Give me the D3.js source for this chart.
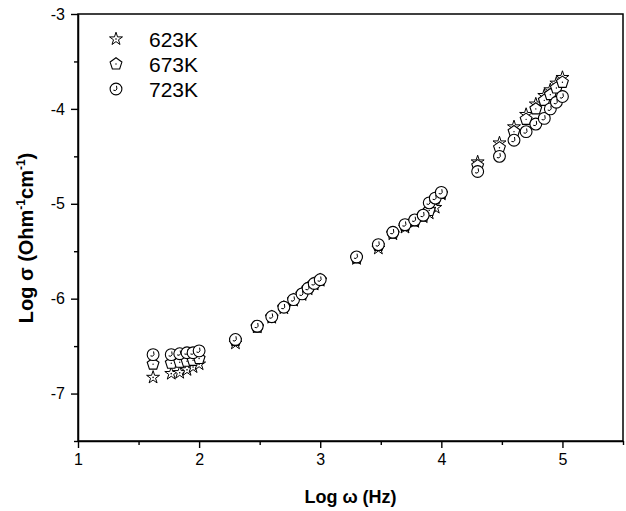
<!DOCTYPE html>
<html>
<head>
<meta charset="utf-8">
<script src="https://cdn.jsdelivr.net/npm/d3@7"></script>
<style>
  html, body { margin: 0; padding: 0; background: #fff; }
  svg { display: block; font-family: Arial, "Liberation Sans", Helvetica, sans-serif; }
</style>
</head>
<body>
<svg id="chart" width="626" height="511"></svg>
<script>
// Log of angular frequency (Hz)
const logW = [1.62, 1.77, 1.84, 1.90, 1.95, 2.00,
              2.30, 2.48, 2.60, 2.70, 2.78, 2.85, 2.90, 2.95, 3.00,
              3.30, 3.48, 3.60, 3.70, 3.78, 3.85, 3.90, 3.95, 4.00,
              4.30, 4.48, 4.60, 4.70, 4.78, 4.85, 4.90, 4.95, 5.00];

// Log conductivity at each temperature
const sigma623 = [-6.83, -6.79, -6.78, -6.75, -6.72, -6.69,
                  -6.47, -6.30, -6.20, -6.10, -6.02, -5.96, -5.90, -5.85, -5.81,
                  -5.58, -5.47, -5.32, -5.25, -5.19, -5.14, -5.10, -5.04, -4.90,
                  -4.56, -4.36, -4.19, -4.06, -3.95, -3.86, -3.80, -3.73, -3.67];
const sigma673 = [-6.69, -6.68, -6.67, -6.66, -6.65, -6.63,
                  -6.44, -6.30, -6.19, -6.09, -6.01, -5.95, -5.89, -5.84, -5.80,
                  -5.57, -5.44, -5.31, -5.23, -5.18, -5.13, -5.07, -4.95, -4.89,
                  -4.60, -4.41, -4.24, -4.11, -4.00, -3.91, -3.85, -3.78, -3.72];
const sigma723 = [-6.59, -6.59, -6.58, -6.57, -6.57, -6.55,
                  -6.43, -6.29, -6.19, -6.09, -6.01, -5.95, -5.89, -5.84, -5.80,
                  -5.56, -5.43, -5.30, -5.22, -5.17, -5.12, -4.99, -4.94, -4.88,
                  -4.66, -4.50, -4.33, -4.24, -4.16, -4.10, -4.00, -3.93, -3.87];

const seriesNames = ["623K", "673K", "723K"];
const xTicks = [1, 2, 3, 4, 5];
const yTicks = [-7, -6, -5, -4, -3];

const svg = d3.select("#chart");
const plotL = 78, plotR = 623, plotT = 14, plotB = 441;

const x = d3.scaleLinear().domain([1, 5.5]).range([plotL, plotR]);
const y = d3.scaleLinear().domain([-7.5, -3]).range([plotB, plotT]);

// Marker shapes
const starPath = d3.symbol().type(d3.symbolStar).size(52)();
const pentPath = (() => {
  const r = 6.2, pts = [];
  for (let i = 0; i < 5; i++) {
    const a = -Math.PI / 2 + i * 2 * Math.PI / 5;
    pts.push([r * Math.cos(a), r * Math.sin(a)]);
  }
  return "M" + pts.map(p => p.join(",")).join("L") + "Z";
})();

function drawStar(g) {
  g.append("path").attr("d", starPath).attr("fill", "#fff").attr("stroke", "#000").attr("stroke-width", 1);
  g.append("circle").attr("r", 0.8).attr("fill", "#000");
}
function drawPent(g) {
  g.append("path").attr("d", pentPath).attr("fill", "#fff").attr("stroke", "#000").attr("stroke-width", 1.1);
  g.append("circle").attr("r", 0.7).attr("fill", "#000");
}
function drawClock(g) {
  g.append("circle").attr("r", 5.9).attr("fill", "#fff").attr("stroke", "#000").attr("stroke-width", 1.1);
  g.append("path").attr("d", "M0.5,-3.2 Q1.8,0.8 -0.5,1.6 L-2.6,1.2")
    .attr("fill", "none").attr("stroke", "#000").attr("stroke-width", 1);
}

// Frame
svg.append("rect").attr("x", plotL).attr("y", plotT)
  .attr("width", plotR - plotL).attr("height", plotB - plotT)
  .attr("fill", "none").attr("stroke", "#000").attr("stroke-width", 1.5);

// Axes
const xAxis = d3.axisBottom(x).tickValues(xTicks).tickFormat(d3.format("d")).tickSize(7).tickSizeOuter(0).tickPadding(6);
const gx = svg.append("g").attr("transform", `translate(0,${plotB})`).call(xAxis);
const yAxis = d3.axisLeft(y).tickValues(yTicks).tickFormat(d => String(d).replace("\u2212", "-")).tickSize(7).tickSizeOuter(0).tickPadding(6);
const gy = svg.append("g").attr("transform", `translate(${plotL},0)`).call(yAxis);
[gx, gy].forEach(g => {
  g.select(".domain").attr("stroke", "#000").attr("stroke-width", 1.5);
  g.selectAll(".tick line").attr("stroke", "#000").attr("stroke-width", 1.4);
  g.selectAll(".tick text").attr("fill", "#000").style("font-size", "16px").style("font-family", "Arial, 'Liberation Sans', sans-serif");
});
// Minor ticks
svg.append("g").attr("transform", `translate(0,${plotB})`)
  .call(d3.axisBottom(x).tickValues([1.5, 2.5, 3.5, 4.5, 5.5]).tickFormat("").tickSize(4).tickSizeOuter(0))
  .call(g => { g.select(".domain").remove(); g.selectAll("line").attr("stroke", "#000").attr("stroke-width", 1.4); });
svg.append("g").attr("transform", `translate(${plotL},0)`)
  .call(d3.axisLeft(y).tickValues([-7.5, -6.5, -5.5, -4.5, -3.5]).tickFormat("").tickSize(4).tickSizeOuter(0))
  .call(g => { g.select(".domain").remove(); g.selectAll("line").attr("stroke", "#000").attr("stroke-width", 1.4); });

// Axis titles
svg.append("text").attr("x", (plotL + plotR) / 2).attr("y", 503)
  .attr("text-anchor", "middle").style("font-size", "18px").style("font-weight", "bold")
  .text("Log \u03c9 (Hz)");

const yt = svg.append("text").attr("transform", "translate(33,238) rotate(-90)")
  .attr("text-anchor", "middle").style("font-size", "20px").style("font-weight", "bold");
yt.append("tspan").text("Log \u03c3 (Ohm");
yt.append("tspan").attr("dy", -8).style("font-size", "12px").text("-1");
yt.append("tspan").attr("dy", 8).text("cm");
yt.append("tspan").attr("dy", -8).style("font-size", "12px").text("-1");
yt.append("tspan").attr("dy", 8).text(")");

// Data markers
const series = [
  { vals: sigma623, draw: drawStar },
  { vals: sigma673, draw: drawPent },
  { vals: sigma723, draw: drawClock }
];
series.forEach(s => {
  svg.append("g").selectAll("g").data(logW.map((w, i) => [w, s.vals[i]]))
    .join("g")
    .attr("transform", d => `translate(${x(d[0])},${y(d[1])})`)
    .each(function () { s.draw(d3.select(this)); });
});

// Legend
const legendY = [39, 64, 89];
series.forEach((s, i) => {
  const g = svg.append("g").attr("transform", `translate(116,${legendY[i]})`);
  s.draw(g);
  svg.append("text").attr("x", 149).attr("y", legendY[i] + 8)
    .style("font-size", "21px").text(seriesNames[i]);
});
</script>
</body>
</html>
